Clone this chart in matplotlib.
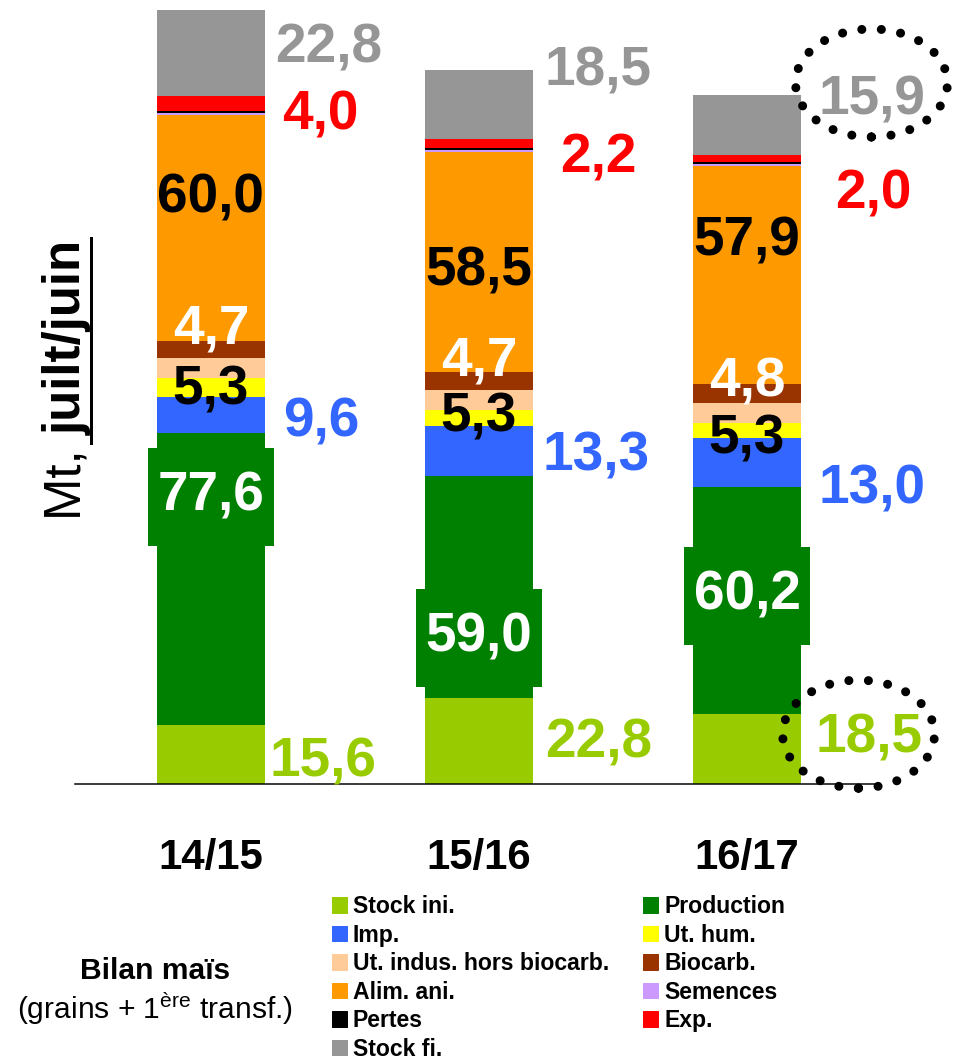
import matplotlib
matplotlib.use('Agg')
import matplotlib.pyplot as plt
import matplotlib.patches as mpatches
from matplotlib.lines import Line2D
from matplotlib.transforms import IdentityTransform
import numpy as np

plt.rcParams['font.family'] = ['Liberation Sans', 'DejaVu Sans']
plt.rcParams['mathtext.fontset'] = 'custom'
plt.rcParams['mathtext.rm'] = 'Liberation Sans'
plt.rcParams['mathtext.bf'] = 'Liberation Sans:bold'
plt.rcParams['mathtext.it'] = 'Liberation Sans:italic'

# ---------------- data ----------------
categories = ['14/15', '15/16', '16/17']
series_names = ['Stock ini.', 'Production', 'Imp.', 'Ut. hum.',
                'Ut. indus. hors biocarb.', 'Biocarb.', 'Alim. ani.',
                'Semences', 'Pertes', 'Exp.', 'Stock fi.']
stock_ini = [15.6, 22.8, 18.5]
production = [77.6, 59.0, 60.2]
imp = [9.6, 13.3, 13.0]
ut_hum = [4.8, 4.2, 4.2]
ut_indus = [5.3, 5.3, 5.3]
biocarb = [4.7, 4.7, 4.8]
alim_ani = [60.0, 58.5, 57.9]
semences = [0.5, 0.5, 0.5]
pertes = [0.5, 0.5, 0.5]
exp_ = [4.0, 2.2, 2.0]
stock_fi = [22.8, 18.5, 15.9]

series_values = [stock_ini, production, imp, ut_hum, ut_indus, biocarb,
                 alim_ani, semences, pertes, exp_, stock_fi]
series_colors = ['#99CC00', '#008000', '#3366FF', '#FFFF00', '#FFCC99',
                 '#993300', '#FF9900', '#CC99FF', '#000000', '#FF0000',
                 '#969696']

# ---------------- figure ----------------
W, H = 956, 1064
DPI = 72
fig = plt.figure(figsize=(W / DPI, H / DPI), dpi=DPI)
ax = fig.add_axes([75 / W, (H - 784) / H, (880 - 75) / W, 784 / H])
ax.set_xlim(-0.507, 2.496)
ax.set_ylim(0, 208)

x = np.arange(len(categories))
bw = 0.403
bottoms = []
bottom = np.zeros(len(categories))
for vals, col, name in zip(series_values, series_colors, series_names):
    v = np.array(vals)
    ax.bar(x, v, bw, bottom=bottom, color=col, edgecolor='none', label=name)
    bottoms.append(bottom.copy())
    bottom = bottom + v

for s in ['top', 'right', 'left']:
    ax.spines[s].set_visible(False)
ax.spines['bottom'].set_linewidth(1.5)
ax.set_yticks([])
ax.set_xticks(x, categories, fontsize=42, fontweight='bold')
ax.tick_params(axis='x', length=0, pad=54)


def fmt(v):
    return f"{v:.1f}".replace('.', ',')


FS = 55
idx = {n: i for i, n in enumerate(series_names)}


def seg(name):
    i = idx[name]
    b = bottoms[i]
    v = np.array(series_values[i])
    return b, v


label_texts = {}

# right-side labels: (series, anchor mode, color, dx list, dy list)
right_specs = [
    ('Stock ini.', 'center', '#99CC00', [5, 12, 14], [-2, 4, 17]),
    ('Imp.', 'center', '#3366FF', [18, 10, 17], [-2, 0, -21]),
    ('Exp.', 'center', '#FF0000', [17, 27, 34], [-6, -9, -30]),
    ('Stock fi.', 'top', '#969696', [10, 12, 17], [-33, 4, 0]),
]
for name, mode, col, dxs, dys in right_specs:
    b, v = seg(name)
    for i in range(len(categories)):
        yy = b[i] + v[i] / 2 if mode == 'center' else b[i] + v[i]
        t = ax.annotate(fmt(v[i]), xy=(x[i] + bw / 2, yy), xytext=(dxs[i], dys[i]),
                        textcoords='offset points', ha='left', va='center_baseline',
                        fontsize=FS, fontweight='bold', color=col,
                        annotation_clip=False)
        label_texts[(name, i)] = t

# labels on the bars
b, v = seg('Production')
for i in range(len(categories)):
    ax.annotate(fmt(v[i]), xy=(x[i], b[i] + v[i] / 2), xytext=(0, [88, -45, 11][i]),
                textcoords='offset points', ha='center', va='center_baseline',
                fontsize=FS, fontweight='bold', color='white',
                bbox=dict(boxstyle='square,pad=0.17', fc='#008000', ec='none',
                          mutation_aspect=2.45),
                annotation_clip=False)

b, v = seg('Ut. indus. hors biocarb.')
for i in range(len(categories)):
    ax.annotate(fmt(v[i]), xy=(x[i], b[i]), xytext=(0, [-6, -2, -11][i]),
                textcoords='offset points', ha='center', va='center_baseline',
                fontsize=FS, fontweight='bold', color='black')

b, v = seg('Biocarb.')
for i in range(len(categories)):
    ax.annotate(fmt(v[i]), xy=(x[i], b[i] + v[i]), xytext=(0, [17, 17, 8][i]),
                textcoords='offset points', ha='center', va='center_baseline',
                fontsize=FS, fontweight='bold', color='white')

b, v = seg('Alim. ani.')
for i in range(len(categories)):
    ax.annotate(fmt(v[i]), xy=(x[i], b[i]), xytext=(0, [148, 107, 149][i]),
                textcoords='offset points', ha='center', va='center_baseline',
                fontsize=FS, fontweight='bold', color='black')

# ---------------- legend ----------------
order = ['Stock ini.', 'Imp.', 'Ut. indus. hors biocarb.', 'Alim. ani.', 'Pertes',
         'Stock fi.', 'Production', 'Ut. hum.', 'Biocarb.', 'Semences', 'Exp.']
handles = [mpatches.Patch(color=series_colors[idx[n]], label=n) for n in order]
fig.legend(handles=handles, labels=order, loc='upper left',
           bbox_to_anchor=(332 / W, 1 - 895 / H), ncol=2, frameon=False,
           prop={'weight': 'bold', 'size': 23}, handlelength=0.652,
           handleheight=0.652, handletextpad=0.26, columnspacing=1.48,
           labelspacing=0.24, borderpad=0, borderaxespad=0)

# ---------------- side texts ----------------
fig.text(155 / W, 1 - 968 / H, 'Bilan maïs', ha='center', va='center_baseline',
         fontsize=30, fontweight='bold')
fig.text(155 / W, 1 - 1005 / H, r'(grains + 1$^{\mathregular{ère}}$ transf.)',
         ha='center', va='center_baseline', fontsize=30)

fig.canvas.draw()
r = fig.canvas.get_renderer()

ylx = 67 / W
t1 = fig.text(ylx, 1 - 520 / H, 'Mt, ', rotation=90, ha='center', va='bottom', fontsize=51)
bb1 = t1.get_window_extent(r)
t2 = fig.text(ylx, bb1.y1 / H, 'juilt/juin', rotation=90, ha='center', va='bottom',
              fontsize=51, fontweight='bold')
bb2 = t2.get_window_extent(r)
fig.add_artist(Line2D([bb2.x1 - 1, bb2.x1 - 1], [bb2.y0 - 8, bb2.y1 + 2],
                      transform=IdentityTransform(), color='black', lw=3))

# dotted ellipses around final-year stocks
for key, (ox, oy) in [(('Stock fi.', 2), (0, 18)), (('Stock ini.', 2), (-10, 4))]:
    tb = label_texts[key].get_window_extent(r)
    cx = (tb.x0 + tb.x1) / 2 + ox
    cy = (tb.y0 + tb.y1) / 2 + oy
    e = mpatches.Ellipse((cx, cy), 152, 108, transform=IdentityTransform(),
                         fill=False, ec='black', lw=9, linestyle=(0, (0.01, 2.165)),
                         capstyle='round', clip_on=False)
    fig.add_artist(e)

fig.savefig('out.png', dpi=DPI)
